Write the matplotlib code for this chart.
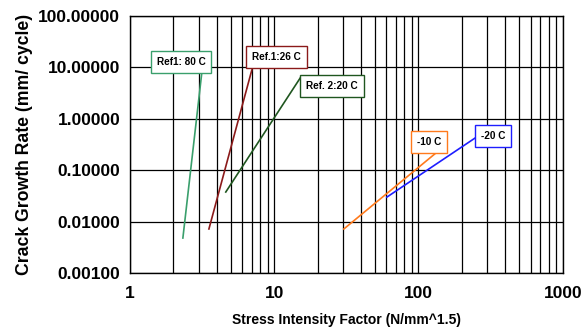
import numpy as np
import matplotlib.pyplot as plt
from matplotlib.ticker import FixedLocator, LogLocator, NullFormatter

plt.rcParams['font.family'] = ['Liberation Sans', 'DejaVu Sans']
plt.rcParams['font.weight'] = 'bold'

# donnees
series = ['Ref1: 80 C', 'Ref.1:26 C', 'Ref. 2:20 C', '-10 C', '-20 C']
k_start = [2.33, 3.53, 4.62, 30.4, 60.4]
k_end = [3.15, 7.0, 15.3, 132, 258]
da_start = [0.0048, 0.0072, 0.0377, 0.0072, 0.030]
da_end = [7.8, 8.9, 6.5, 0.216, 0.46]
colors = ['#3a9f6c', '#8b1a1a', '#1f561f', '#ff7a1c', '#1e1eff']
lab_x = [2.26, 10.4, 25.1, 118, 328]
lab_y = [12.7, 15.9, 4.35, 0.355, 0.46]

fig = plt.figure(figsize=(5.85, 3.27), dpi=100)
ax = fig.add_axes([0.222, 0.165, 0.740, 0.786])

for i in range(len(series)):
  ax.plot([k_start[i], k_end[i]], [da_start[i], da_end[i]], color=colors[i], lw=1.2)
  ax.text(lab_x[i], lab_y[i], series[i], fontsize=7.2, fontweight='bold', ha='center', va='center',
          bbox=dict(facecolor='white', edgecolor=colors[i], lw=1, boxstyle='square,pad=0.6'))

ax.set_xscale('log')
ax.set_yscale('log')
ax.set_xlim(1, 1000)
ax.set_ylim(0.001, 100)
ax.xaxis.set_major_locator(FixedLocator([1, 10, 100, 1000]))
ax.xaxis.set_minor_locator(LogLocator(base=10, subs=np.arange(2, 10)))
ax.xaxis.set_minor_formatter(NullFormatter())
ax.set_xticklabels(['1', '10', '100', '1000'])
yt = [0.001, 0.01, 0.1, 1, 10, 100]
ax.yaxis.set_major_locator(FixedLocator(yt))
ax.yaxis.set_minor_locator(FixedLocator([]))
ax.set_yticklabels(['%.5f' % v for v in yt])
ax.grid(True, which='major', color='black', lw=0.9)
ax.grid(True, which='minor', axis='x', color='black', lw=0.9)
ax.tick_params(which='both', length=0, labelsize=12.5)
ax.tick_params(axis='x', pad=9)
ax.tick_params(axis='y', pad=7)
for s in ax.spines.values():
  s.set_color('black')
  s.set_linewidth(1)
ax.set_xlabel('Stress Intensity Factor (N/mm^1.5)', fontsize=10, fontweight='bold', labelpad=9)
ax.set_ylabel('Crack Growth Rate (mm/ cycle)', fontsize=12.7, fontweight='bold', labelpad=4)

fig.savefig('out.png', dpi=100)
